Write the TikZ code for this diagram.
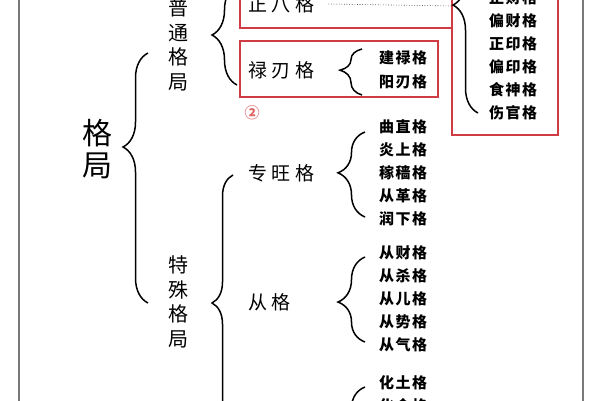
\documentclass[tikz,border=0pt]{standalone}
\usepackage{fontspec}
\usetikzlibrary{decorations.pathreplacing}
\newfontfamily\cjk{Noto Sans CJK SC}
\newfontfamily\cjkls[LetterSpace=24]{Noto Sans CJK SC}
\newfontfamily\cjkb[LetterSpace=10]{Noto Sans CJK SC}
\definecolor{boxred}{RGB}{208,60,68}
\definecolor{circred}{RGB}{225,100,100}
\definecolor{pagegray}{RGB}{120,120,120}
\begin{document}
\begin{tikzpicture}[x=1pt,y=-1pt,
  big/.style={font=\cjk\fontsize{30}{32}\selectfont, align=center, inner sep=0pt},
  vlab/.style={font=\cjk\fontsize{20}{24.5}\selectfont, align=center, inner sep=0pt},
  lab/.style={font=\cjkls\fontsize{19}{22}\selectfont, inner sep=0pt, anchor=west},
  itm/.style={font=\cjkb\bfseries\fontsize{15}{18}\selectfont, inner sep=0pt},
  brc/.style={decorate, decoration={brace, amplitude=#1}, line width=1.5pt},
  redbox/.style={draw=boxred, line width=2.4pt},
  pageline/.style={draw=pagegray, line width=1.4pt}
]
\useasboundingbox (0,0) rectangle (600,400);
\clip (0,0) rectangle (600,400);
\fill[white] (0,0) rectangle (600,400);
% page edges
\draw[pageline] (19,-5) -- (19,405);
\draw[pageline] (583,-5) -- (583,405);
% red boxes
\draw[redbox] (240,-10) rectangle (452,28);
\draw[redbox] (240,41) rectangle (438,97);
\draw[redbox] (452,-10) rectangle (558,135);
% main labels
\node[big] (geju) at (97,149) {格\\局};
\node[vlab] (putong) at (178,45) {普\\通\\格\\局};
\node[vlab] (teshu) at (178,302) {特\\殊\\格\\局};
\node[lab] (zhengba) at (248,4) {正八格};
\node[lab] (luren) at (248,70) {禄刃格};
\node[lab] (zhuanwang) at (248,173) {专旺格};
\node[lab] (cong) at (248,302) {从格};
\node[font=\cjk\bfseries\fontsize{15}{15}\selectfont, text=circred, inner sep=0pt] (c2) at (252,113) {②};
% items
\node[itm] (jianlu) at (403,58) {建禄格};
\node[itm] (yangren) at (403,82) {阳刃格};
\node[itm] (zhengcai) at (513,-2) {正财格};
\node[itm] (piancai) at (513,21) {偏财格};
\node[itm] (zhengyin) at (513,44) {正印格};
\node[itm] (pianyin) at (513,67) {偏印格};
\node[itm] (shishen) at (513,90) {食神格};
\node[itm] (shangguan) at (513,113) {伤官格};
\node[itm] (quzhi) at (403,127) {曲直格};
\node[itm] (yanshang) at (403,150) {炎上格};
\node[itm] (jiase) at (403,173) {稼穑格};
\node[itm] (congge) at (403,196) {从革格};
\node[itm] (runxia) at (403,219) {润下格};
\node[itm] (congcai) at (403,253) {从财格};
\node[itm] (congsha) at (403,276) {从杀格};
\node[itm] (conger) at (403,299) {从儿格};
\node[itm] (congshi) at (403,322) {从势格};
\node[itm] (congqi) at (403,345) {从气格};
\node[itm] (huatu) at (403,383) {化土格};
\node[itm] (huajin) at (403,406) {化金格};
% brace end points
\coordinate (b0s) at (148,303); \coordinate (b0e) at (148,53);
\coordinate (b1s) at (237,85);  \coordinate (b1e) at (237,-15);
\coordinate (b2s) at (362,95);  \coordinate (b2e) at (362,49);
\coordinate (b3s) at (478,113); \coordinate (b3e) at (478,-60);
\coordinate (b4s) at (233,440); \coordinate (b4e) at (233,175);
\coordinate (b5s) at (365,217); \coordinate (b5e) at (365,132);
\coordinate (b6s) at (365,342); \coordinate (b6e) at (365,257);
\coordinate (b7s) at (365,472); \coordinate (b7e) at (365,387);
\coordinate (t3) at (453,6);
% braces
\draw[brc=25pt, decoration={aspect=0.624}] (b0s) -- (b0e);
\draw[brc=25pt] (b1s) -- (b1e);
\draw[brc=22pt, decoration={aspect=0.54}] (b2s) -- (b2e);
\draw[brc=25pt, decoration={aspect=0.624}] (b3s) -- (b3e);
\draw[brc=21pt, decoration={aspect=0.517}] (b4s) -- (b4e);
\draw[brc=27pt, decoration={aspect=0.52}] (b5s) -- (b5e);
\draw[brc=27pt, decoration={aspect=0.47}] (b6s) -- (b6e);
\draw[brc=27pt] (b7s) -- (b7e);
% dotted link
\draw[dotted, line width=0.6pt] ([xshift=14pt]zhengba.east) -- (t3);
\end{tikzpicture}
\end{document}
